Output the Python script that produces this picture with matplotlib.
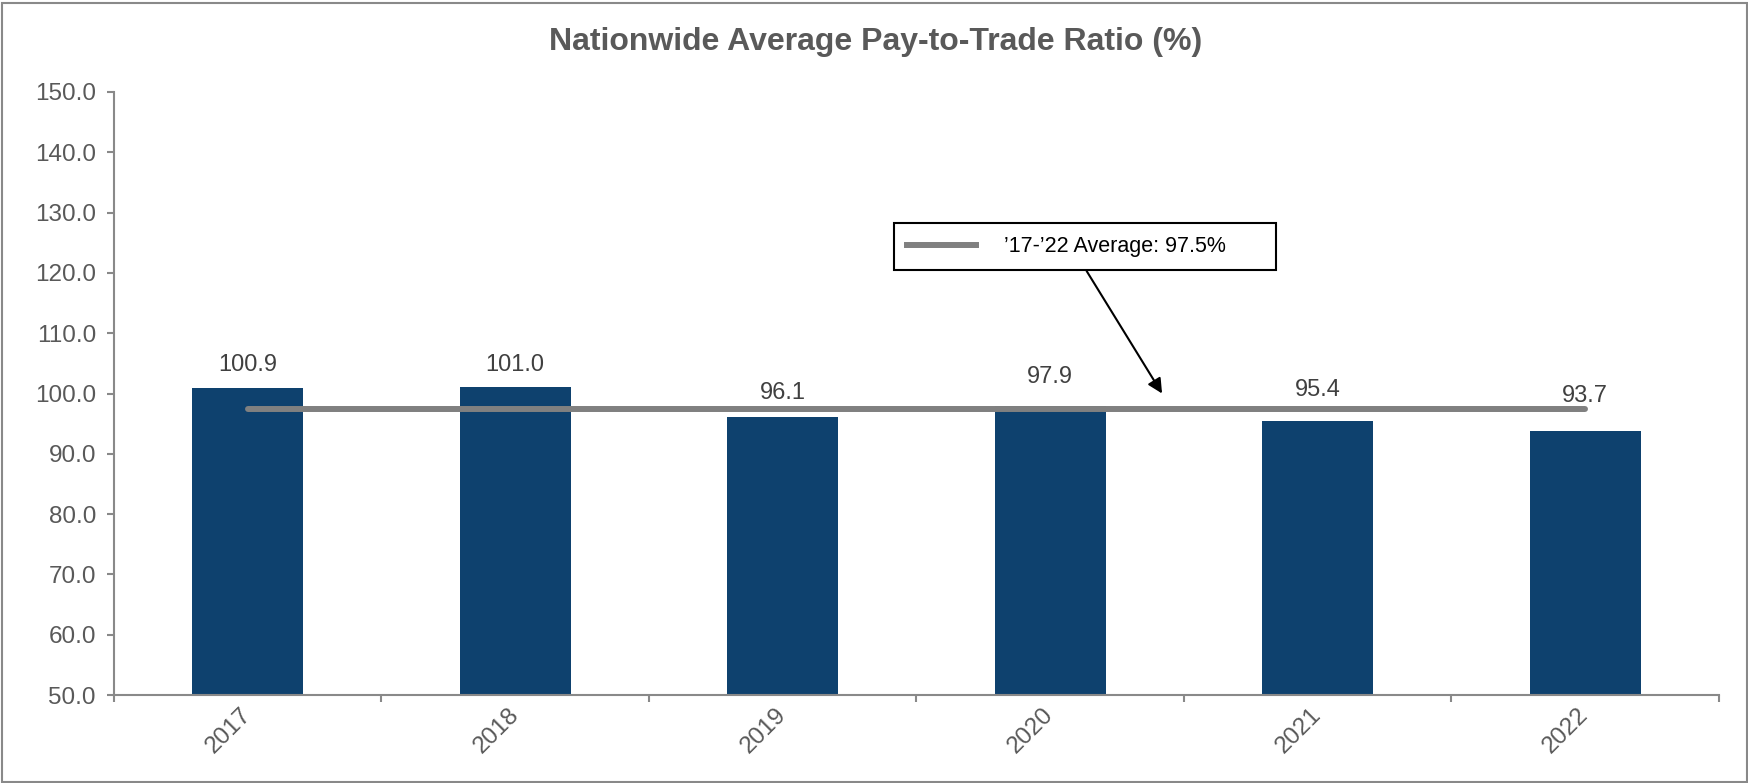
import numpy as np
import matplotlib
matplotlib.use("Agg")
import matplotlib.pyplot as plt
from matplotlib.lines import Line2D
from matplotlib.patches import Rectangle

years = ["2017", "2018", "2019", "2020", "2021", "2022"]
ratios = [100.9, 101.0, 96.1, 97.9, 95.4, 93.7]
y_ticks = np.arange(50, 151, 10)
title = "Nationwide Average Pay-to-Trade Ratio (%)"

# nudges (points) so the value labels clear the average line
label_offsets = [12, 12, 13, 16.5, 18, 21]

plt.rcParams["font.family"] = ["Liberation Sans", "DejaVu Sans"]

W, H = 1749, 783
fig = plt.figure(figsize=(W / 100, H / 100), dpi=100)
left, right, bottom, top = 114, 1719, 695, 92
ax = fig.add_axes([left / W, 1 - bottom / H, (right - left) / W, (bottom - top) / H])

bar_color = "#0e416e"
axis_color = "#898989"
avg_color = "#808080"

x = np.arange(len(years))
avg = np.mean(ratios)

ax.bar(x, ratios, width=0.415, color=bar_color, zorder=2)
ax.plot([x[0], x[-1]], [avg, avg], color=avg_color, lw=4.3,
        solid_capstyle="round", zorder=3)

for xi, v, off in zip(x, ratios, label_offsets):
    ax.annotate(f"{v:.1f}", (xi, v), xytext=(0, off), textcoords="offset points",
                ha="center", va="baseline", fontsize=17, color="#404040")

ax.set_xlim(-0.5, len(years) - 0.5)
ax.set_ylim(50, 150)
ax.set_yticks(y_ticks)
ax.set_yticklabels([f"{t:.1f}" for t in y_ticks])

# labels at bar centres, tick marks at the category boundaries
ax.set_xticks(x)
ax.set_xticklabels(years)
ax.set_xticks(np.arange(len(years) + 1) - 0.5, minor=True)
ax.tick_params(axis="x", which="major", length=0, pad=12,
               labelsize=17.5, labelcolor="#595959")
ax.tick_params(axis="x", which="minor", length=5, width=1.5,
               color=axis_color, direction="out")
ax.tick_params(axis="y", length=5, width=1.5, color=axis_color,
               direction="out", pad=8, labelsize=17.5, labelcolor="#595959")
for lab in ax.get_xticklabels():
    lab.set_rotation(45)
    lab.set_ha("right")
    lab.set_va("center")
    lab.set_rotation_mode("anchor")

for side in ("top", "right"):
    ax.spines[side].set_visible(False)
for side in ("left", "bottom"):
    ax.spines[side].set_color(axis_color)
    ax.spines[side].set_linewidth(1.5)

# average callout box
handle = Line2D([], [], color=avg_color, lw=4.3)
leg = ax.legend([handle], [f"\u201917-\u201922 Average: {avg:.1f}%"],
                loc="upper left", bbox_to_anchor=(0.4858, 0.7031, 0.2380, 0.0794),
                mode="expand", borderaxespad=0, fancybox=False, framealpha=1,
                edgecolor="black", fontsize=15.5, handlelength=3.2,
                handletextpad=1.3, borderpad=0.6)
leg.get_frame().set_linewidth(1.5)
for t in leg.get_texts():
    t.set_color("black")

ax.annotate("", xy=(3.418, 100.0), xycoords="data",
            xytext=(0.606, 0.7031), textcoords="axes fraction",
            arrowprops=dict(arrowstyle="-|>", color="black", lw=1.5,
                            mutation_scale=22, shrinkA=0, shrinkB=0),
            zorder=5)

fig.text(876 / W, 1 - 42 / H, title, ha="center", va="center",
         fontsize=23, fontweight="bold", color="#595959")

# outer frame round the whole chart
fig.add_artist(Rectangle((2.5 / W, 1.5 / H), (W - 4) / W, (H - 4.5) / H,
                         transform=fig.transFigure, fill=False,
                         edgecolor=axis_color, lw=1.5))

fig.savefig("out.png", dpi=100)
